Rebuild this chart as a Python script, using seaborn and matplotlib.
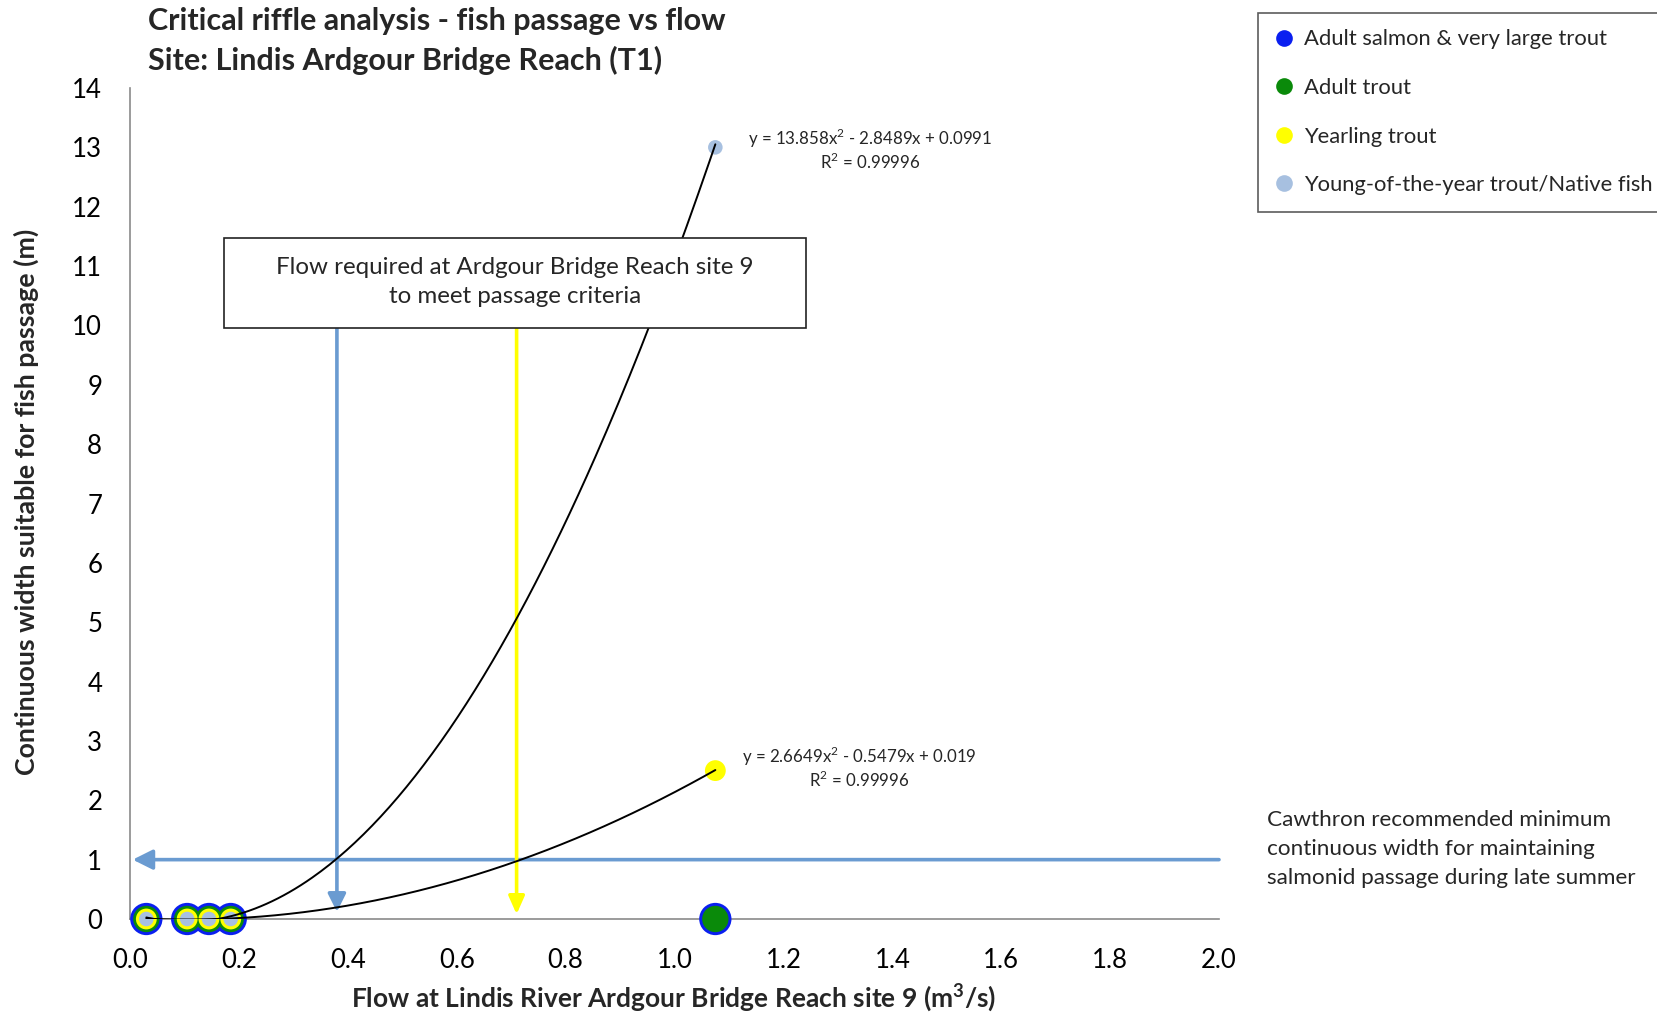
import numpy as np
import pandas as pd
import matplotlib
matplotlib.use("Agg")
import matplotlib.pyplot as plt
import seaborn as sns
from matplotlib.lines import Line2D
from matplotlib.patches import Rectangle

# ---- data ----
flow = [0.03, 0.105, 0.145, 0.185, 1.075]
adult_salmon = [0, 0, 0, 0, 0]
adult_trout = [0, 0, 0, 0, 0]
yearling_trout = [0, 0, 0, 0, 2.5]
yoy_trout = [0, 0, 0, 0, 13]

series_names = ["Adult salmon & very large trout", "Adult trout",
                "Yearling trout", "Young-of-the-year trout/Native fish"]
series_colors = ["#0a1ff0", "#0a8a0a", "#ffff00", "#a7c0e0"]

# trendline coefficients (a, b, c) for y = a x^2 + b x + c
yoy_coef = [13.858, -2.8489, 0.0991]
yearling_coef = [2.6649, -0.5479, 0.019]
yoy_eq = "y = 13.858x$^2$ - 2.8489x + 0.0991\nR$^2$ = 0.99996"
yearling_eq = "y = 2.6649x$^2$ - 0.5479x + 0.019\nR$^2$ = 0.99996"

min_width = 1.0
flow_adult = 0.38
flow_yearling = 0.71

x_ticks = [0.0, 0.2, 0.4, 0.6, 0.8, 1.0, 1.2, 1.4, 1.6, 1.8, 2.0]
y_ticks = list(range(0, 15))

# ---- style ----
sns.set_theme(style="white")
plt.rcParams['font.family'] = ['Lato', 'DejaVu Sans']
plt.rcParams['mathtext.fontset'] = 'custom'
plt.rcParams['mathtext.rm'] = 'Lato'
plt.rcParams['mathtext.bf'] = 'Lato:bold'

fig = plt.figure(figsize=(16.58, 10.16), dpi=100)
ax = fig.add_axes([130/1658, 1 - 919/1016, (1219-130)/1658, (919-88)/1016])

series_vals = [adult_salmon, adult_trout, yearling_trout, yoy_trout]
sizes = [540, 360, 225, 110]
for name, vals, col, s, z in zip(series_names, series_vals, series_colors, sizes, [3, 4, 5, 6]):
    df = pd.DataFrame({"flow": flow, "width": vals})
    sns.scatterplot(data=df, x="flow", y="width", color=col, s=s, edgecolor="none",
                    ax=ax, clip_on=False, zorder=z, legend=False)

# trendlines
for coef in [yoy_coef, yearling_coef]:
    xs = np.linspace(min(flow), max(flow), 200)
    ys = np.polyval(coef, xs)
    sns.lineplot(x=xs, y=ys, color="black", lw=1.4, ax=ax, zorder=7, sort=False)

# equations
ax.text(1.36, 12.97, yoy_eq, ha="center", va="center", fontsize=12.2, linespacing=1.1, zorder=8)
ax.text(1.34, 2.55, yearling_eq, ha="center", va="center", fontsize=12.2, linespacing=1.1, zorder=8)

# arrows
blue = "#6a9bd1"
ax.annotate("", xy=(0.005, min_width), xytext=(2.0, min_width),
            arrowprops=dict(arrowstyle="-|>,head_length=1.0,head_width=0.5", color=blue, lw=2.6,
                            shrinkA=0, shrinkB=0), zorder=2, annotation_clip=False)
box_x0, box_x1, box_y0, box_y1 = 0.173, 1.241, 9.96, 11.47
ax.annotate("", xy=(flow_adult, 0.12), xytext=(flow_adult, box_y0),
            arrowprops=dict(arrowstyle="-|>,head_length=0.9,head_width=0.45", color=blue, lw=2.6,
                            shrinkA=0, shrinkB=0), zorder=2)
ax.annotate("", xy=(flow_yearling, 0.08), xytext=(flow_yearling, box_y0),
            arrowprops=dict(arrowstyle="-|>,head_length=0.9,head_width=0.4", color="#ffff00", lw=2.6,
                            shrinkA=0, shrinkB=0), zorder=2)

# text box
ax.add_patch(Rectangle((box_x0, box_y0), box_x1 - box_x0, box_y1 - box_y0,
                       facecolor="white", edgecolor="#222222", lw=1.2, zorder=9))
ax.text((box_x0 + box_x1) / 2, (box_y0 + box_y1) / 2 + 0.02,
        "Flow required at Ardgour Bridge Reach site 9\nto meet passage criteria",
        ha="center", va="center", fontsize=17.4, linespacing=1.5, zorder=10)

# axes
ax.set_xlim(0, 2.0)
ax.set_ylim(0, 14)
ax.set_xticks(x_ticks)
ax.set_xticklabels([f"{v:.1f}" for v in x_ticks])
ax.set_yticks(y_ticks)
ax.set_yticklabels([str(v) for v in y_ticks])
for sp in ["top", "right"]:
    ax.spines[sp].set_visible(False)
for sp in ["left", "bottom"]:
    ax.spines[sp].set_color("#8a8a8a")
    ax.spines[sp].set_linewidth(1.2)
ax.tick_params(axis="both", which="major", direction="out", length=6, width=1.1,
               color="#8a8a8a", labelsize=18.5, labelcolor="black")
ax.tick_params(axis="x", pad=15)
ax.tick_params(axis="y", pad=14)
ax.set_xlabel("")
ax.set_ylabel("")

fig.text(148/1658, 1 - 21/1016, "Critical riffle analysis - fish passage vs flow",
         fontsize=22, fontweight="bold", ha="left", va="center")
fig.text(148/1658, 1 - 60/1016, "Site: Lindis Ardgour Bridge Reach (T1)",
         fontsize=22, fontweight="bold", ha="left", va="center")
fig.text(674/1658, 1 - 998/1016, "Flow at Lindis River Ardgour Bridge Reach site 9 (m$\\mathbf{^3}$/s)",
         fontsize=19, fontweight="bold", ha="center", va="center")
fig.text(26/1658, 1 - 502/1016, "Continuous width suitable for fish passage (m)",
         fontsize=19.3, fontweight="bold", ha="center", va="center", rotation=90)

fig.text(1267/1658, 1 - 849/1016,
         "Cawthron recommended minimum\ncontinuous width for maintaining\nsalmonid passage during late summer",
         fontsize=16.2, ha="left", va="center", linespacing=1.55)

handles = [Line2D([0], [0], marker="o", color="none", markerfacecolor=c, markeredgecolor="none",
                  markersize=12) for c in series_colors]
leg = fig.legend(handles, series_names, loc="upper left", bbox_to_anchor=(1258/1658, 1 - 13/1016),
                 frameon=True, fontsize=15.8, labelspacing=1.3, handletextpad=0.45,
                 borderpad=0.75, handlelength=0.9, fancybox=False, borderaxespad=0)
leg.get_frame().set_edgecolor("#333333")
leg.get_frame().set_linewidth(1.2)

fig.savefig("out.png", dpi=100)
